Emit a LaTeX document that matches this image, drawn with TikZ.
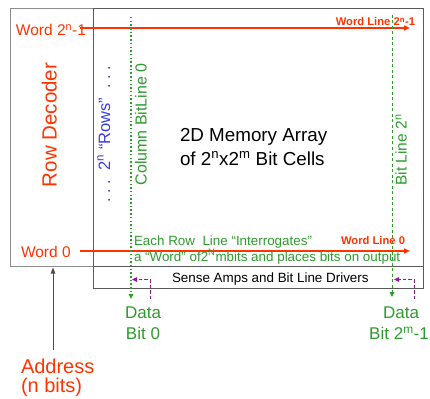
\documentclass[tikz,border=0pt]{standalone}
\usepackage{fontspec}
\setmainfont{Liberation Sans}
\usetikzlibrary{arrows.meta}
\definecolor{wred}{RGB}{255,51,0}
\definecolor{bgreen}{RGB}{45,155,45}
\definecolor{rblue}{RGB}{60,60,220}
\definecolor{dpurple}{RGB}{150,20,150}
\definecolor{frame}{RGB}{90,90,90}
\newcommand{\fs}[1]{\fontsize{#1}{#1}\selectfont}
\begin{document}
\begin{tikzpicture}[x=1pt,y=-1pt,
  boxline/.style={draw=frame,line width=1.1pt,inner sep=0pt},
  txt/.style={inner sep=0pt,outer sep=0pt},
  wordline/.style={wred,line width=1.5pt,-{Triangle[length=6pt,width=5pt]}},
  bitdot/.style={bgreen,line width=1.2pt,dash pattern=on 1.5pt off 2.2pt,-{Triangle[length=5pt,width=4.5pt]}},
  bitdash/.style={bgreen,line width=1pt,dash pattern=on 3pt off 2.5pt,-{Triangle[length=5pt,width=4.5pt]}},
  drive/.style={dpurple,line width=1pt,dash pattern=on 3.5pt off 2pt,-{Triangle[length=5pt,width=4.5pt]}},
  addr/.style={black!70,line width=1pt,-{Triangle[length=6pt,width=4.5pt]}}]
\useasboundingbox (0,0) rectangle (430,398);

% boxes: row decoder, cell array, sense amplifiers
\node[boxline,draw=black!45,anchor=north west,minimum width=83pt,minimum height=258pt] (dec) at (10,8) {};
\node[boxline,anchor=north west,minimum width=330pt,minimum height=258pt] (arr) at (93,8) {};
\node[boxline,anchor=north west,minimum width=330pt,minimum height=22pt] (sa) at (93,266) {};

% box labels
\node[txt,wred,rotate=90,anchor=base,font=\fs{20.5}] (declbl) at (56.7,125) {Row Decoder};
\node[txt,anchor=base west,font=\fs{18.8},align=left] (arrl1) at (180,141.7) {2D Memory Array};
\node[txt,anchor=base west,font=\fs{18.8}] (arrl2) at (180,165) {of 2\textsuperscript{n}x2\textsuperscript{m} Bit Cells};
\node[txt,anchor=base west,font=\fs{13.4}] (salbl) at (172,282.7) {Sense Amps and Bit Line Drivers};
\node[txt,rblue,rotate=90,anchor=base,font=\fs{16.5}] (rows) at (110,134) {.\;.\;.\ \ 2\textsuperscript{n} “Rows” \ .\;.\;.};

% word lines
\coordinate (w1a) at (80,28);
\coordinate (w1b) at (410,28);
\coordinate (w0a) at (80,251);
\coordinate (w0b) at (410,251);
\node[txt,wred,anchor=base west,font=\fs{15.5}] (wtop) at (16,36) {Word 2\textsuperscript{n}-1};
\node[txt,wred,anchor=base west,font=\fs{15.5}] (wbot) at (21,257) {Word 0};
\draw[wordline] (w1a) -- (w1b);
\draw[wordline] (w0a) -- (w0b);
\node[txt,wred,anchor=base east,font=\bfseries\fs{11.2}] (wl1) at (415,26) {Word Line 2\textsuperscript{n}-1};
\node[txt,wred,anchor=base east,font=\bfseries\fs{11.2}] (wl0) at (405,244.5) {Word Line 0};

% bit lines
\coordinate (b0a) at (131,17);
\coordinate (b0b) at (131,299);
\coordinate (bna) at (392,15);
\coordinate (bnb) at (392,297);
\draw[bitdot] (b0a) -- (b0b);
\draw[bitdash] (bna) -- (bnb);
\node[txt,bgreen,rotate=90,anchor=base,font=\fs{16}] (b0lbl) at (146.7,124.5) {Column BitLine 0};
\node[txt,bgreen,rotate=90,anchor=base,font=\fs{15.5}] (bnlbl) at (406.7,150) {Bit Line 2\textsuperscript{n}};

% row interrogation note
\node[txt,bgreen,anchor=base west,font=\fs{13.4}] (note1) at (134,245.7) {Each Row\ \ Line “Interrogates”};
\node[txt,bgreen,anchor=base west,font=\fs{13.4}] (note2) at (134,261) {a “Word” of2\textsuperscript{N}mbits and places bits on output};

% write drivers
\coordinate (d0a) at (150,299);
\coordinate (d0c) at (150,279.5);
\coordinate (d0b) at (132,279.5);
\coordinate (dna) at (414,299);
\coordinate (dnc) at (414,279.5);
\coordinate (dnb) at (394,279.5);
\draw[drive] (d0a) -- (d0c) -- (d0b);
\draw[drive] (dna) -- (dnc) -- (dnb);

% data labels
\node[txt,bgreen,anchor=base,font=\fs{17}] (data0a) at (143,318.3) {Data};
\node[txt,bgreen,anchor=base,font=\fs{17}] (data0b) at (143,339.3) {Bit 0};
\node[txt,bgreen,anchor=base,font=\fs{17}] (datana) at (401,318.3) {Data};
\node[txt,bgreen,anchor=base,font=\fs{17}] (datanb) at (399,339.3) {Bit 2\textsuperscript{m}-1};

% address input
\node[txt,wred,anchor=base west,font=\fs{20}] (adr1) at (21,373.3) {Address};
\node[txt,wred,anchor=base west,font=\fs{20}] (adr2) at (21,392.7) {(n bits)};
\coordinate (adrtop) at (53,350);
\coordinate (adrtip) at (53,267.5);
\draw[addr] (adrtop) -- (adrtip);
\end{tikzpicture}
\end{document}
